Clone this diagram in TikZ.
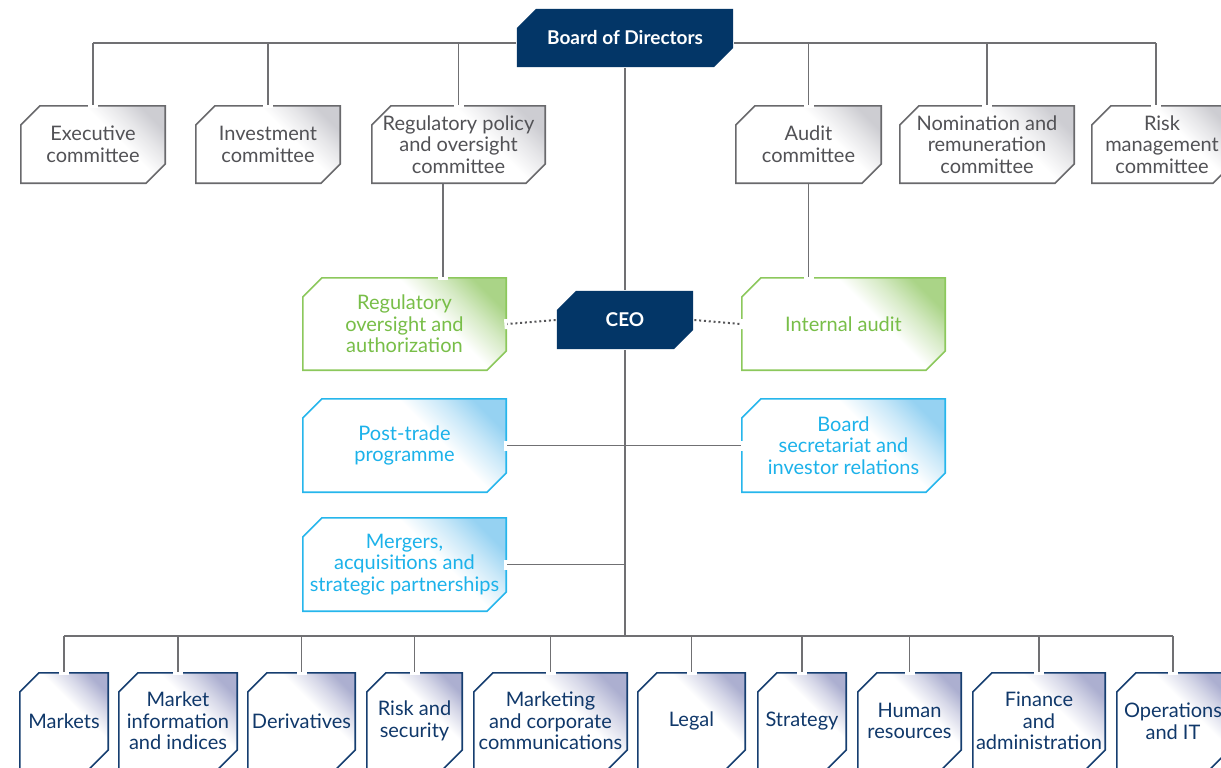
\documentclass[tikz,border=0pt]{standalone}
\usepackage{fontspec}
\setmainfont{Lato}
\usepackage{tikz}
\usetikzlibrary{positioning, backgrounds, calc}
\definecolor{Navy}{RGB}{3,54,103}
\definecolor{LineGray}{RGB}{112,112,115}
\definecolor{DotGray}{RGB}{85,85,88}
\definecolor{CmteGray}{RGB}{105,105,108}
\definecolor{CmteText}{RGB}{82,82,86}
\definecolor{CmteTint}{RGB}{205,205,210}
\definecolor{CtrlGreen}{RGB}{140,200,92}
\definecolor{CtrlText}{RGB}{120,190,72}
\definecolor{CtrlTint}{RGB}{170,212,135}
\definecolor{StaffCyan}{RGB}{38,182,236}
\definecolor{StaffText}{RGB}{28,178,234}
\definecolor{StaffTint}{RGB}{150,210,242}
\definecolor{DeptBlue}{RGB}{22,62,112}
\definecolor{DeptText}{RGB}{16,56,106}
\definecolor{DeptTint}{RGB}{172,175,208}
\colorlet{tintcol}{white}
% fades in towards the top end only
\pgfdeclareverticalshading[tintcol]{cornerfade}{100bp}{color(0bp)=(white);
  color(53bp)=(white); color(65bp)=(tintcol!50); color(75bp)=(tintcol);
  color(100bp)=(tintcol)}
% chamfered outline, corners cut at north west and south east
\newcommand\chamferbox{([shift={(10pt,-0.4pt)}]path picture bounding box.north west)
  -- ([shift={(-0.4pt,-0.4pt)}]path picture bounding box.north east)
  -- ([shift={(-0.4pt,10pt)}]path picture bounding box.south east)
  -- ([shift={(-10pt,0.4pt)}]path picture bounding box.south east)
  -- ([shift={(0.4pt,0.4pt)}]path picture bounding box.south west)
  -- ([shift={(0.4pt,-10pt)}]path picture bounding box.north west) -- cycle}
\tikzset{
  unit/.style={rectangle, inner sep=0pt, fill=white, align=center,
    font=\fontsize{10}{10.8}\selectfont},
  box/.style 2 args={unit, path picture={\colorlet{tintcol}{#2}
    \begin{scope}
      \clip \chamferbox;
      \shade[shading=cornerfade, shading angle=-45]
        let \p1=(path picture bounding box.south west),
            \p2=(path picture bounding box.north east),
            \n1={0.4*(\x2-\x1+\y2-\y1)} in
        (\x2-\n1,\y2-\n1) rectangle (\p2);
    \end{scope}
    \draw[draw=#1, line width=0.8pt] \chamferbox;}},
  chief/.style={unit, text=white, minimum height=30pt,
    font=\fontsize{9.5}{11}\selectfont\bfseries,
    path picture={\fill[Navy] \chamferbox;}},
  cmte/.style={box={CmteGray}{CmteTint}, text=CmteText, minimum height=39.5pt},
  ctrl/.style={box={CtrlGreen}{CtrlTint}, text=CtrlText,
    minimum width=102.5pt, minimum height=47pt},
  staff/.style={box={StaffCyan}{StaffTint}, text=StaffText,
    minimum width=102.5pt, minimum height=47.5pt},
  dept/.style={box={DeptBlue}{DeptTint}, text=DeptText, minimum height=49pt},
  link/.style={draw=LineGray, line width=0.7pt},
  halo/.style={draw=white, line width=5pt, shorten <=3pt, shorten >=-1.5pt},
  dots link/.style={draw=DotGray, line width=1pt, dash pattern=on 1pt off 1.4pt},
  dots halo/.style={},
}

\begin{document}
\begin{tikzpicture}[x=0.5pt, y=-0.5pt]
  \useasboundingbox (0,0) rectangle (1221,767);
  \clip (0,0) rectangle (1221,767);
  \coordinate (topbus) at (625,43);
  \coordinate (lowbus) at (625,636);

  % board and committees
  \node[chief, minimum width=109pt] (board) at (625,38) {Board of Directors};
  \node[cmte, minimum width=73pt] (exec) at (93,144.5) {Executive\\committee};
  \node[cmte, minimum width=73pt] (invest) at (268,144.5) {Investment\\committee};
  \node[cmte, minimum width=87.5pt] (regpol) at (458.5,144.5)
    {Regulatory policy\\and oversight\\committee};
  \node[cmte, minimum width=73.5pt] (audit) at (808.5,144.5) {Audit\\committee};
  \node[cmte, minimum width=88pt] (nomin) at (987,144.5)
    {Nomination and\\remuneration\\committee};
  \node[cmte, minimum width=71pt] (riskc) at (1162,144.5)
    {Risk\\management\\committee};

  % CEO with control and staff functions
  \node[chief, minimum width=69pt] (ceo) at (625,320) {CEO};
  \node[ctrl] (regov) at (404.5,324) {Regulatory\\oversight and\\authorization};
  \node[ctrl] (iaudit) at (843.5,324) {Internal audit};
  \node[staff] (posttr) at (404.5,445.5) {Post-trade\\programme};
  \node[staff] (bsec) at (843.5,445.5) {Board\\secretariat and\\investor relations};
  \node[staff] (merger) at (404.5,564.5)
    {Mergers,\\acquisitions and\\strategic partnerships};

  % departments
  \node[dept, minimum width=45pt] (markets) at (64,721) {Markets};
  \node[dept, minimum width=60pt] (mktinfo) at (178,721) {Market\\information\\and indices};
  \node[dept, minimum width=54.5pt] (deriv) at (301.5,721) {Derivatives};
  \node[dept, minimum width=48.5pt] (risksec) at (414.5,721) {Risk and\\security};
  \node[dept, minimum width=77.5pt] (mktcomm) at (550.5,721)
    {Marketing\\and corporate\\communications};
  \node[dept, minimum width=54.5pt] (legal) at (691.5,721) {Legal};
  \node[dept, minimum width=45pt] (strat) at (802,721) {Strategy};
  \node[dept, minimum width=52.5pt] (hr) at (909.5,721) {Human\\resources};
  \node[dept, minimum width=67pt] (finance) at (1039,721) {Finance\\and\\administration};
  \node[dept, minimum width=57pt] (ops) at (1173,721) {Operations\\and IT};

  \begin{scope}[on background layer]
    \draw[link] (exec.north |- topbus) -- ([xshift=-3pt]riskc.north |- topbus);
    \draw[link] (markets.north |- lowbus) -- (ops.north |- lowbus);
  \end{scope}

  % white gaps first, then the lines
  \foreach \s in {halo, link}{
    \foreach \n in {exec, invest, regpol, audit, nomin}
      \draw[\s] (\n.north |- topbus) -- (\n.north);
    \draw[\s] ([xshift=-3pt]riskc.north |- topbus) -- ([xshift=-3pt]riskc.north);
    \foreach \n in {markets, mktinfo, deriv, risksec, mktcomm, legal, strat, hr, finance, ops}
      \draw[\s] (\n.north |- lowbus) -- (\n.north);
    \draw[\s] ([xshift=-7.75pt]regpol.south) -- ([xshift=-7.75pt]regpol.south |- regov.north);
    \draw[\s] (audit.south) -- (audit.south |- iaudit.north);
    \draw[\s] (posttr.east -| ceo.south) -- (posttr.east);
    \draw[\s] (posttr.east -| ceo.south) -- (bsec.west);
    \draw[\s] (merger.east -| ceo.south) -- (merger.east);
    \draw[\s, dots \s] (ceo.west) -- (regov.east);
    \draw[\s, dots \s] (ceo.east) -- (iaudit.west);
  }
  \draw[link] (board.south) -- (ceo.north);
  \draw[link] (ceo.south) -- (ceo.south |- lowbus);
\end{tikzpicture}
\end{document}
